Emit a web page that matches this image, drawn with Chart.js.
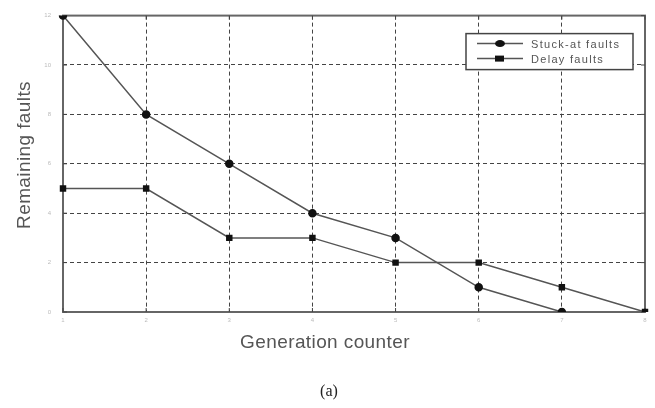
<!DOCTYPE html>
<html lang="en">
<head>
  <meta charset="UTF-8" />
  <title>Remaining faults</title>
  <script src="https://cdn.jsdelivr.net/npm/chart.js"></script>
  <style>
    html, body { margin: 0; padding: 0; background: #fff; }
    .wrap { position: relative; width: 655px; height: 408px; }
  </style>
</head>
<body>
  <div class="wrap">
    <canvas id="faults" width="655" height="408"></canvas>
  </div>

  <script>
    // data
    const generations = ['1', '2', '3', '4', '5', '6', '7', '8'];
    const stuckAtFaults = [12, 8, 6, 4, 3, 1, 0, null];
    const delayFaults = [5, 5, 3, 3, 2, 2, 1, 0];
    const yTicks = [0, 2, 4, 6, 8, 10, 12];

    const lineColor = '#555';
    const gridColor = '#444';

    // frame, mirrored ticks, legend box and titles
    const figureDecor = {
      id: 'figureDecor',
      beforeDatasetsDraw(chart) {
        const { ctx, chartArea: a, scales } = chart;
        ctx.save();
        ctx.strokeStyle = '#666';
        ctx.lineWidth = 2;
        ctx.strokeRect(a.left, a.top, a.right - a.left, a.bottom - a.top);
        ctx.lineWidth = 1;
        ctx.strokeStyle = '#444';
        scales.x.ticks.forEach((t, i) => {
          const x = scales.x.getPixelForTick(i);
          ctx.beginPath();
          ctx.moveTo(x, a.top); ctx.lineTo(x, a.top + 4);
          ctx.moveTo(x, a.bottom); ctx.lineTo(x, a.bottom - 4);
          ctx.stroke();
        });
        scales.y.ticks.forEach((t, i) => {
          const y = scales.y.getPixelForTick(i);
          ctx.beginPath();
          ctx.moveTo(a.left, y); ctx.lineTo(a.left + 4, y);
          ctx.moveTo(a.right, y); ctx.lineTo(a.right - 4, y);
          ctx.stroke();
        });
        ctx.restore();
      },
      afterDraw(chart) {
        const { ctx, chartArea: a } = chart;
        ctx.save();

        // legend
        const lx = a.right - 179, ly = a.top + 18, lw = 167, lh = 36;
        ctx.fillStyle = '#fff';
        ctx.fillRect(lx, ly, lw, lh);
        ctx.strokeStyle = '#444';
        ctx.lineWidth = 1.5;
        ctx.strokeRect(lx, ly, lw, lh);
        chart.data.datasets.forEach((ds, i) => {
          const y = ly + 10 + i * 15;
          ctx.strokeStyle = lineColor;
          ctx.lineWidth = 1.5;
          ctx.beginPath();
          ctx.moveTo(lx + 11, y); ctx.lineTo(lx + 57, y);
          ctx.stroke();
          ctx.fillStyle = '#111';
          if (ds.pointStyle === 'rect') {
            ctx.fillRect(lx + 29, y - 3, 9, 6);
          } else {
            ctx.beginPath();
            ctx.ellipse(lx + 34, y, 5, 3.5, 0, 0, Math.PI * 2);
            ctx.fill();
          }
          ctx.fillStyle = '#555';
          ctx.font = '11px "Liberation Sans", Arial, sans-serif';
          ctx.letterSpacing = '1.3px';
          ctx.textBaseline = 'middle';
          ctx.textAlign = 'left';
          ctx.fillText(ds.label, lx + 65, y + 1);
        });
        ctx.letterSpacing = '0px';

        // axis titles
        ctx.fillStyle = '#555';
        ctx.font = '19px "Liberation Sans", Arial, sans-serif';
        ctx.letterSpacing = '0.4px';
        ctx.textAlign = 'center';
        ctx.textBaseline = 'middle';
        ctx.fillText('Generation counter', 325, 343);
        ctx.save();
        ctx.translate(25, 155);
        ctx.rotate(-Math.PI / 2);
        ctx.fillText('Remaining faults', 0, 0);
        ctx.restore();
        ctx.letterSpacing = '0px';

        ctx.fillStyle = '#222';
        ctx.font = '16px "Liberation Serif", "Times New Roman", serif';
        ctx.fillText('(a)', 329, 392);
        ctx.restore();
      }
    };

    new Chart(document.getElementById('faults'), {
      type: 'line',
      data: {
        labels: generations,
        datasets: [
          {
            label: 'Stuck-at faults',
            data: stuckAtFaults,
            borderColor: lineColor,
            borderWidth: 1.5,
            pointStyle: 'circle',
            pointRadius: 3.5,
            pointBackgroundColor: '#111',
            pointBorderColor: '#111',
            tension: 0
          },
          {
            label: 'Delay faults',
            data: delayFaults,
            borderColor: lineColor,
            borderWidth: 1.5,
            pointStyle: 'rect',
            pointRadius: 3.5,
            pointBackgroundColor: '#111',
            pointBorderColor: '#111',
            tension: 0
          }
        ]
      },
      options: {
        responsive: false,
        animation: false,
        layout: { padding: { top: 15, right: 10, bottom: 0, left: 0 } },
        plugins: {
          legend: { display: false },
          tooltip: { enabled: false }
        },
        scales: {
          x: {
            offset: false,
            grid: {
              color: gridColor,
              lineWidth: 1,
              drawTicks: false
            },
            border: { display: false, dash: [4, 3] },
            ticks: {
              color: '#bbb',
              font: { size: 6 },
              padding: 5,
              maxRotation: 0
            },
            afterFit(scale) { scale.height = 96; }
          },
          y: {
            min: 0,
            max: 12,
            afterBuildTicks(scale) { scale.ticks = yTicks.map(v => ({ value: v })); },
            grid: {
              color: gridColor,
              lineWidth: 1,
              drawTicks: false
            },
            border: { display: false, dash: [4, 3] },
            ticks: {
              color: '#bbb',
              font: { size: 6 },
              padding: 12
            },
            afterFit(scale) { scale.width = 63; }
          }
        }
      },
      plugins: [figureDecor]
    });
  </script>
</body>
</html>
